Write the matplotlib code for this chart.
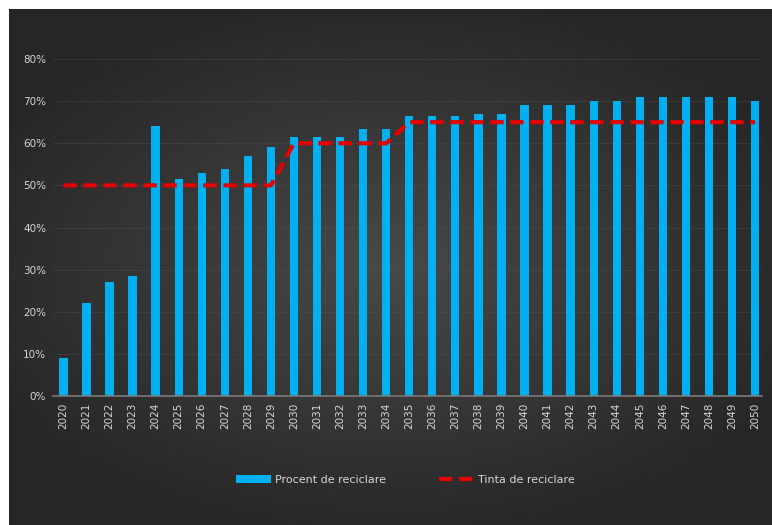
import matplotlib
matplotlib.use('Agg')
import matplotlib.pyplot as plt
from matplotlib.ticker import PercentFormatter
import numpy as np

years = [str(y) for y in range(2020, 2051)]
procent = [9, 22, 27, 28.5, 64, 51.5, 53, 54, 57, 59,
           61.5, 61.5, 61.5, 63.5, 63.5, 66.5, 66.5, 66.5, 67, 67,
           69, 69, 69, 70, 70, 71, 71, 71, 71, 71, 70]
tinta = [50] * 10 + [60] * 5 + [65] * 16

BLUE = '#00b0f0'
RED = '#e60000'
TXT = '#d6d6d6'

fig = plt.figure(figsize=(7.72, 5.25), dpi=100)
fig.patch.set_facecolor('white')

# fundal inchis cu gradient radial (mai deschis in centru)
bg = fig.add_axes([9 / 772, 0, 1 - 9 / 772, 1 - 9 / 525])
bg.set_axis_off()
gx, gy = np.meshgrid(np.linspace(-1, 1, 400), np.linspace(-1, 1, 300))
r = np.sqrt((gx * 0.95) ** 2 + (gy * 1.05) ** 2)
shade = np.clip(0.285 - 0.12 * r, 0.15, 0.29)
img = np.dstack([shade, shade, shade])
bg.imshow(img, aspect='auto', extent=[0, 1, 0, 1], interpolation='bilinear')

ax = fig.add_axes([53 / 772, 129 / 525, 709 / 772, 337 / 525])
ax.set_facecolor('none')
x = np.arange(len(years))
bars = ax.bar(x, procent, width=0.36, color=BLUE, label='Procent de reciclare', zorder=2)
line, = ax.plot(x, tinta, color=RED, linestyle=(0, (3.2, 1.6)), linewidth=3,
                label='Tinta de reciclare', zorder=3)

ax.set_xlim(-0.45, 30.3)
ax.set_ylim(0, 80)
ax.yaxis.set_major_formatter(PercentFormatter(decimals=0))
ax.set_yticks(range(0, 81, 10))
ax.grid(axis='y', color='#5a5a5a', linewidth=0.6, alpha=0.35, zorder=0)
ax.set_axisbelow(True)

ax.set_xticks(x)
ax.set_xticklabels(years, rotation=90, fontsize=7.5, color=TXT)
for lbl in ax.get_yticklabels():
    lbl.set_fontsize(7.5)
    lbl.set_color(TXT)
ax.tick_params(length=0, pad=5)
for side in ['top', 'right', 'left']:
    ax.spines[side].set_visible(False)
ax.spines['bottom'].set_color('#7a7a7a')
ax.spines['bottom'].set_linewidth(1.2)

leg = fig.legend([bars, line], ['Procent de reciclare', 'Tinta de reciclare'],
                 loc='center', bbox_to_anchor=(0.525, 0.086), ncol=2,
                 frameon=False, fontsize=8, handlelength=3.2,
                 columnspacing=4.8, handletextpad=0.3)
for t in leg.get_texts():
    t.set_color(TXT)

fig.savefig('out.png', dpi=100, facecolor=fig.get_facecolor())
